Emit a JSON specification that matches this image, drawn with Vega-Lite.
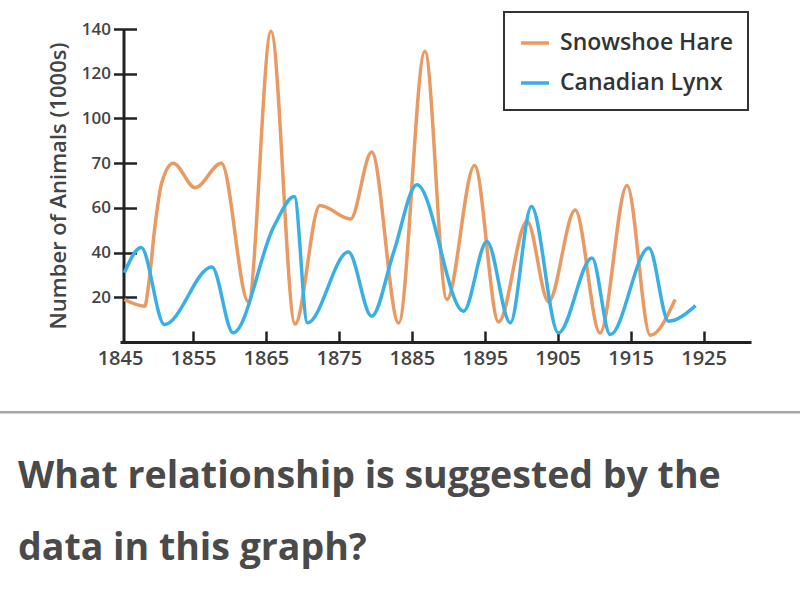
{
  "$schema": "https://vega.github.io/schema/vega-lite/v6.json",
  "autosize": "none",
  "width": 631,
  "height": 313,
  "padding": {"left": 120, "top": 29, "right": 49, "bottom": 254},
  "background": "white",
  "config": {
    "view": {"stroke": null},
    "font": "Open Sans",
    "legend": {"strokeWidth": 2}
  },
  "title": {
    "text": ["What relationship is suggested by the", "data in this graph?"],
    "orient": "bottom",
    "anchor": "start",
    "frame": "group",
    "baseline": "alphabetic",
    "font": "Open Sans",
    "fontSize": 37.5,
    "fontWeight": 700,
    "color": "#4a4a4a",
    "lineHeight": 72,
    "dx": -102,
    "offset": 75
  },
  "data": {
    "values": [
      {"year": 1845.6, "count": 19, "species": "Snowshoe Hare"},
      {"year": 1848.4, "count": 16, "species": "Snowshoe Hare"},
      {"year": 1848.9, "count": 25, "species": "Snowshoe Hare"},
      {"year": 1849.8, "count": 52, "species": "Snowshoe Hare"},
      {"year": 1850.7, "count": 71, "species": "Snowshoe Hare"},
      {"year": 1852.3, "count": 80, "species": "Snowshoe Hare"},
      {"year": 1855.3, "count": 69, "species": "Snowshoe Hare"},
      {"year": 1858.9, "count": 80, "species": "Snowshoe Hare"},
      {"year": 1862.6, "count": 18, "species": "Snowshoe Hare"},
      {"year": 1865.7, "count": 139, "species": "Snowshoe Hare"},
      {"year": 1869.0, "count": 8, "species": "Snowshoe Hare"},
      {"year": 1872.4, "count": 61, "species": "Snowshoe Hare"},
      {"year": 1876.6, "count": 55, "species": "Snowshoe Hare"},
      {"year": 1879.5, "count": 85, "species": "Snowshoe Hare"},
      {"year": 1883.2, "count": 8.5, "species": "Snowshoe Hare"},
      {"year": 1886.8, "count": 130, "species": "Snowshoe Hare"},
      {"year": 1889.8, "count": 19, "species": "Snowshoe Hare"},
      {"year": 1893.6, "count": 79, "species": "Snowshoe Hare"},
      {"year": 1896.9, "count": 9, "species": "Snowshoe Hare"},
      {"year": 1900.8, "count": 54, "species": "Snowshoe Hare"},
      {"year": 1903.75, "count": 18, "species": "Snowshoe Hare"},
      {"year": 1907.4, "count": 59, "species": "Snowshoe Hare"},
      {"year": 1910.8, "count": 4, "species": "Snowshoe Hare"},
      {"year": 1914.5, "count": 70, "species": "Snowshoe Hare"},
      {"year": 1917.7, "count": 3, "species": "Snowshoe Hare"},
      {"year": 1921.1, "count": 19, "species": "Snowshoe Hare"},
      {"year": 1845.6, "count": 31, "species": "Canadian Lynx"},
      {"year": 1847.9, "count": 42.3, "species": "Canadian Lynx"},
      {"year": 1851.1, "count": 7.8, "species": "Canadian Lynx"},
      {"year": 1857.6, "count": 33.6, "species": "Canadian Lynx"},
      {"year": 1860.5, "count": 4.1, "species": "Canadian Lynx"},
      {"year": 1866.1, "count": 51.7, "species": "Canadian Lynx"},
      {"year": 1868.9, "count": 65.1, "species": "Canadian Lynx"},
      {"year": 1870.7, "count": 8.6, "species": "Canadian Lynx"},
      {"year": 1876.3, "count": 40.3, "species": "Canadian Lynx"},
      {"year": 1879.5, "count": 11.5, "species": "Canadian Lynx"},
      {"year": 1882.5, "count": 40, "species": "Canadian Lynx"},
      {"year": 1885.7, "count": 70.3, "species": "Canadian Lynx"},
      {"year": 1892.1, "count": 13.8, "species": "Canadian Lynx"},
      {"year": 1895.3, "count": 45, "species": "Canadian Lynx"},
      {"year": 1898.5, "count": 8.6, "species": "Canadian Lynx"},
      {"year": 1901.4, "count": 60.6, "species": "Canadian Lynx"},
      {"year": 1905.1, "count": 4.1, "species": "Canadian Lynx"},
      {"year": 1909.7, "count": 37.6, "species": "Canadian Lynx"},
      {"year": 1912.2, "count": 3.3, "species": "Canadian Lynx"},
      {"year": 1917.5, "count": 42, "species": "Canadian Lynx"},
      {"year": 1920.2, "count": 9.3, "species": "Canadian Lynx"},
      {"year": 1923.9, "count": 16.3, "species": "Canadian Lynx"}
    ]
  },
  "resolve": {"axis": {"x": "independent", "y": "independent"}},
  "layer": [
    {
      "mark": {"type": "line", "interpolate": "monotone", "strokeWidth": 3.5},
      "encoding": {
        "x": {
          "field": "year", "type": "quantitative",
          "scale": {"domain": [1845, 1931.5], "nice": false, "zero": false},
          "axis": {
            "orient": "bottom", "title": null, "grid": false,
            "values": [1845, 1855, 1865, 1875, 1885, 1895, 1905, 1915, 1925],
            "format": "d", "ticks": false, "labelFlush": false, "labelOverlap": false,
            "domain": true, "domainColor": "#222", "domainWidth": 3,
            "labelFont": "Open Sans", "labelFontSize": 20, "labelFontWeight": 600,
            "labelColor": "#444", "labelPadding": 6
          }
        },
        "y": {
          "field": "count", "type": "quantitative",
          "scale": {"domain": [0, 140], "nice": false, "zero": true},
          "axis": {
            "orient": "left", "offset": -3.5, "grid": false,
            "values": [20, 40, 60, 80, 100, 120, 140],
            "labelExpr": "datum.value == 80 ? '70' : datum.label",
            "ticks": true, "tickSize": 10, "tickWidth": 2.5, "tickColor": "#222",
            "domain": true, "domainColor": "#222", "domainWidth": 3,
            "labelFont": "Open Sans", "labelFontSize": 17, "labelFontWeight": 600,
            "labelColor": "#444", "labelPadding": 3,
            "title": "Number of Animals (1000s)",
            "titleFont": "Open Sans", "titleFontSize": 22, "titleFontWeight": 600,
            "titleColor": "#444", "titlePadding": 11
          }
        },
        "color": {
          "field": "species", "type": "nominal",
          "scale": {"domain": ["Snowshoe Hare", "Canadian Lynx"], "range": ["#E99A63", "#3AAFE3"]},
          "legend": {
            "orient": "none", "legendX": 384, "legendY": -17,
            "title": null, "strokeColor": "#333", "fillColor": "white",
            "padding": 15, "rowPadding": 12, "labelLimit": 400,
            "symbolType": "stroke", "symbolSize": 784, "symbolStrokeWidth": 3.5,
            "labelFont": "Open Sans", "labelFontSize": 23, "labelFontWeight": 600,
            "labelColor": "#333", "labelOffset": 9
          }
        }
      }
    },
    {
      "mark": {"type": "point", "opacity": 0},
      "encoding": {
        "x": {
          "field": "year", "type": "quantitative",
          "axis": {
            "orient": "bottom", "offset": -11, "tickSize": 11, "tickWidth": 2.5,
            "tickColor": "#222", "domain": false, "labels": false, "title": null, "grid": false,
            "values": [1855, 1865, 1875, 1885, 1895, 1905, 1915, 1925]
          }
        },
        "y": {
          "field": "count", "type": "quantitative",
          "axis": {
            "orient": "left", "offset": -16.5, "tickSize": 13, "tickWidth": 2.5,
            "tickColor": "#222", "domain": false, "labels": false, "title": null, "grid": false,
            "values": [20, 40, 60, 80, 100, 120, 140]
          }
        }
      }
    },
    {
      "data": {"values": [{"item": "separator"}]},
      "mark": {"type": "rule", "color": "#a6a6a6", "strokeWidth": 2.5},
      "encoding": {
        "x": {"datum": 1828.5, "type": "quantitative", "axis": null},
        "x2": {"datum": 1938.3},
        "y": {"datum": -31.4, "type": "quantitative", "axis": null}
      }
    }
  ]
}
